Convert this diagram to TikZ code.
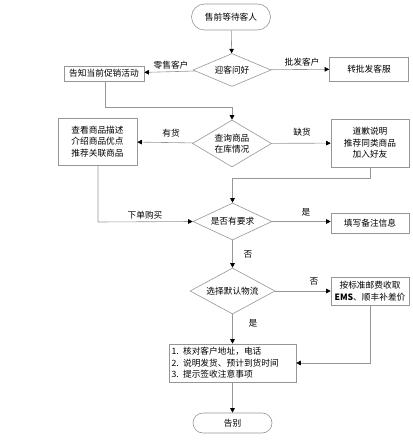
\documentclass[tikz,border=0pt]{standalone}
\usepackage{fontspec}
\newfontfamily\cjk{Noto Sans CJK SC}
\usetikzlibrary{shapes.geometric,arrows.meta}
\definecolor{ln}{RGB}{150,150,150}
\tikzset{
  base/.style={font=\cjk\fontsize{8.7}{11.5}\selectfont, text=black},
  box/.style={base, draw=ln, line width=0.6pt, rectangle, inner sep=1pt, align=center},
  term/.style={box, minimum width=79pt},
  dia/.style={draw=ln, line width=0.6pt, shape=diamond, inner sep=0pt},
  conn/.style={draw=ln, line width=0.6pt, -{Triangle[length=4.5pt,width=4.5pt,color=black]}},
  lab/.style={base, inner sep=0pt}
}
\begin{document}
\begin{tikzpicture}[x=1pt,y=-1pt]
\useasboundingbox (0,0) rectangle (412,441);
% nodes
\node[term, minimum height=26pt, rounded corners=13pt] (s) at (231,17) {售前等待客人};
\node[dia, minimum width=78pt, minimum height=33pt, label={[base]center:迎客问好}] (d1) at (232,70) {};
\node[box, minimum width=80pt, minimum height=15pt] (b1) at (104,73.5) {告知当前促销活动};
\node[box, minimum width=79pt, minimum height=24pt] (b2) at (369,69) {转批发客服};
\node[dia, minimum width=79pt, minimum height=47pt, label={[base,align=center]center:查询商品\\在库情况}] (d2) at (232,143.5) {};
\node[box, minimum width=79pt, minimum height=47pt] (b3) at (97.5,141.5) {查看商品描述\\介绍商品优点\\推荐关联商品};
\node[box, minimum width=78pt, minimum height=48pt] (b4) at (370,143) {道歉说明\\推荐同类商品\\加入好友};
\node[dia, minimum width=79pt, minimum height=37pt, label={[base]center:是否有要求}] (d3) at (232.5,221.5) {};
\node[box, minimum width=78pt, minimum height=20pt] (b5) at (370,223) {填写备注信息};
\node[dia, minimum width=85pt, minimum height=46pt, label={[base]center:选择默认物流}] (d4) at (232.5,291) {};
\node[box, minimum width=78pt, minimum height=28pt, inner sep=0.5pt] (b6) at (370,291) {按标准邮费收取\\{\bfseries EMS}、顺丰补差价};
\node[box, minimum width=127pt, minimum height=38pt, align=left, text width=122pt, inner sep=1pt] (b7) at (232.5,363) {1. 核对客户地址，电话\\2. 说明发货、预计到货时间\\3. 提示签收注意事项};
\node[term, minimum height=20pt, rounded corners=10pt] (e) at (232.5,423) {告别};
% helper coordinates
\coordinate (c1) at (105,107);
\coordinate (c2) at (232,107);
\coordinate (c3) at (98,222);
\coordinate (c4) at (370,178);
\coordinate (c5) at (232.5,178);
\coordinate (c6) at (370,363);
% connectors
\draw[conn] (s) -- (d1);
\draw[conn] (d1) -- (b1);
\draw[conn] (d1) -- (b2);
\draw[conn] (b1.south -| c1) -- (c1) -- (c2) -- (d2.north);
\draw[conn] (d2) -- (b3);
\draw[conn] (d2) -- (b4);
\draw[conn] (b3.south -| c3) -- (c3) -- (d3.west);
\draw[conn] (b4.south) -- (c4) -- (c5) -- (d3.north);
\draw[conn] (d3.east) -- (b5.west |- d3.east);
\draw[conn] (d3) -- (d4);
\draw[conn] (d4) -- (b6);
\draw[conn] (d4) -- (b7);
\draw[conn] (b6.south) -- (c6) -- (b7.east |- c6);
\draw[conn] (b7) -- (e);
% labels
\node[lab] (l1) at (171,65) {零售客户};
\node[lab] (l2) at (302,62.5) {批发客户};
\node[lab] (l3) at (171,133) {有货};
\node[lab] (l4) at (302,132) {缺货};
\node[lab] (l5) at (145,215) {下单购买};
\node[lab] (l6) at (306,212) {是};
\node[lab] (l7) at (248,254) {否};
\node[lab] (l8) at (314,281) {否};
\node[lab] (l9) at (253,323) {是};
\end{tikzpicture}
\end{document}
